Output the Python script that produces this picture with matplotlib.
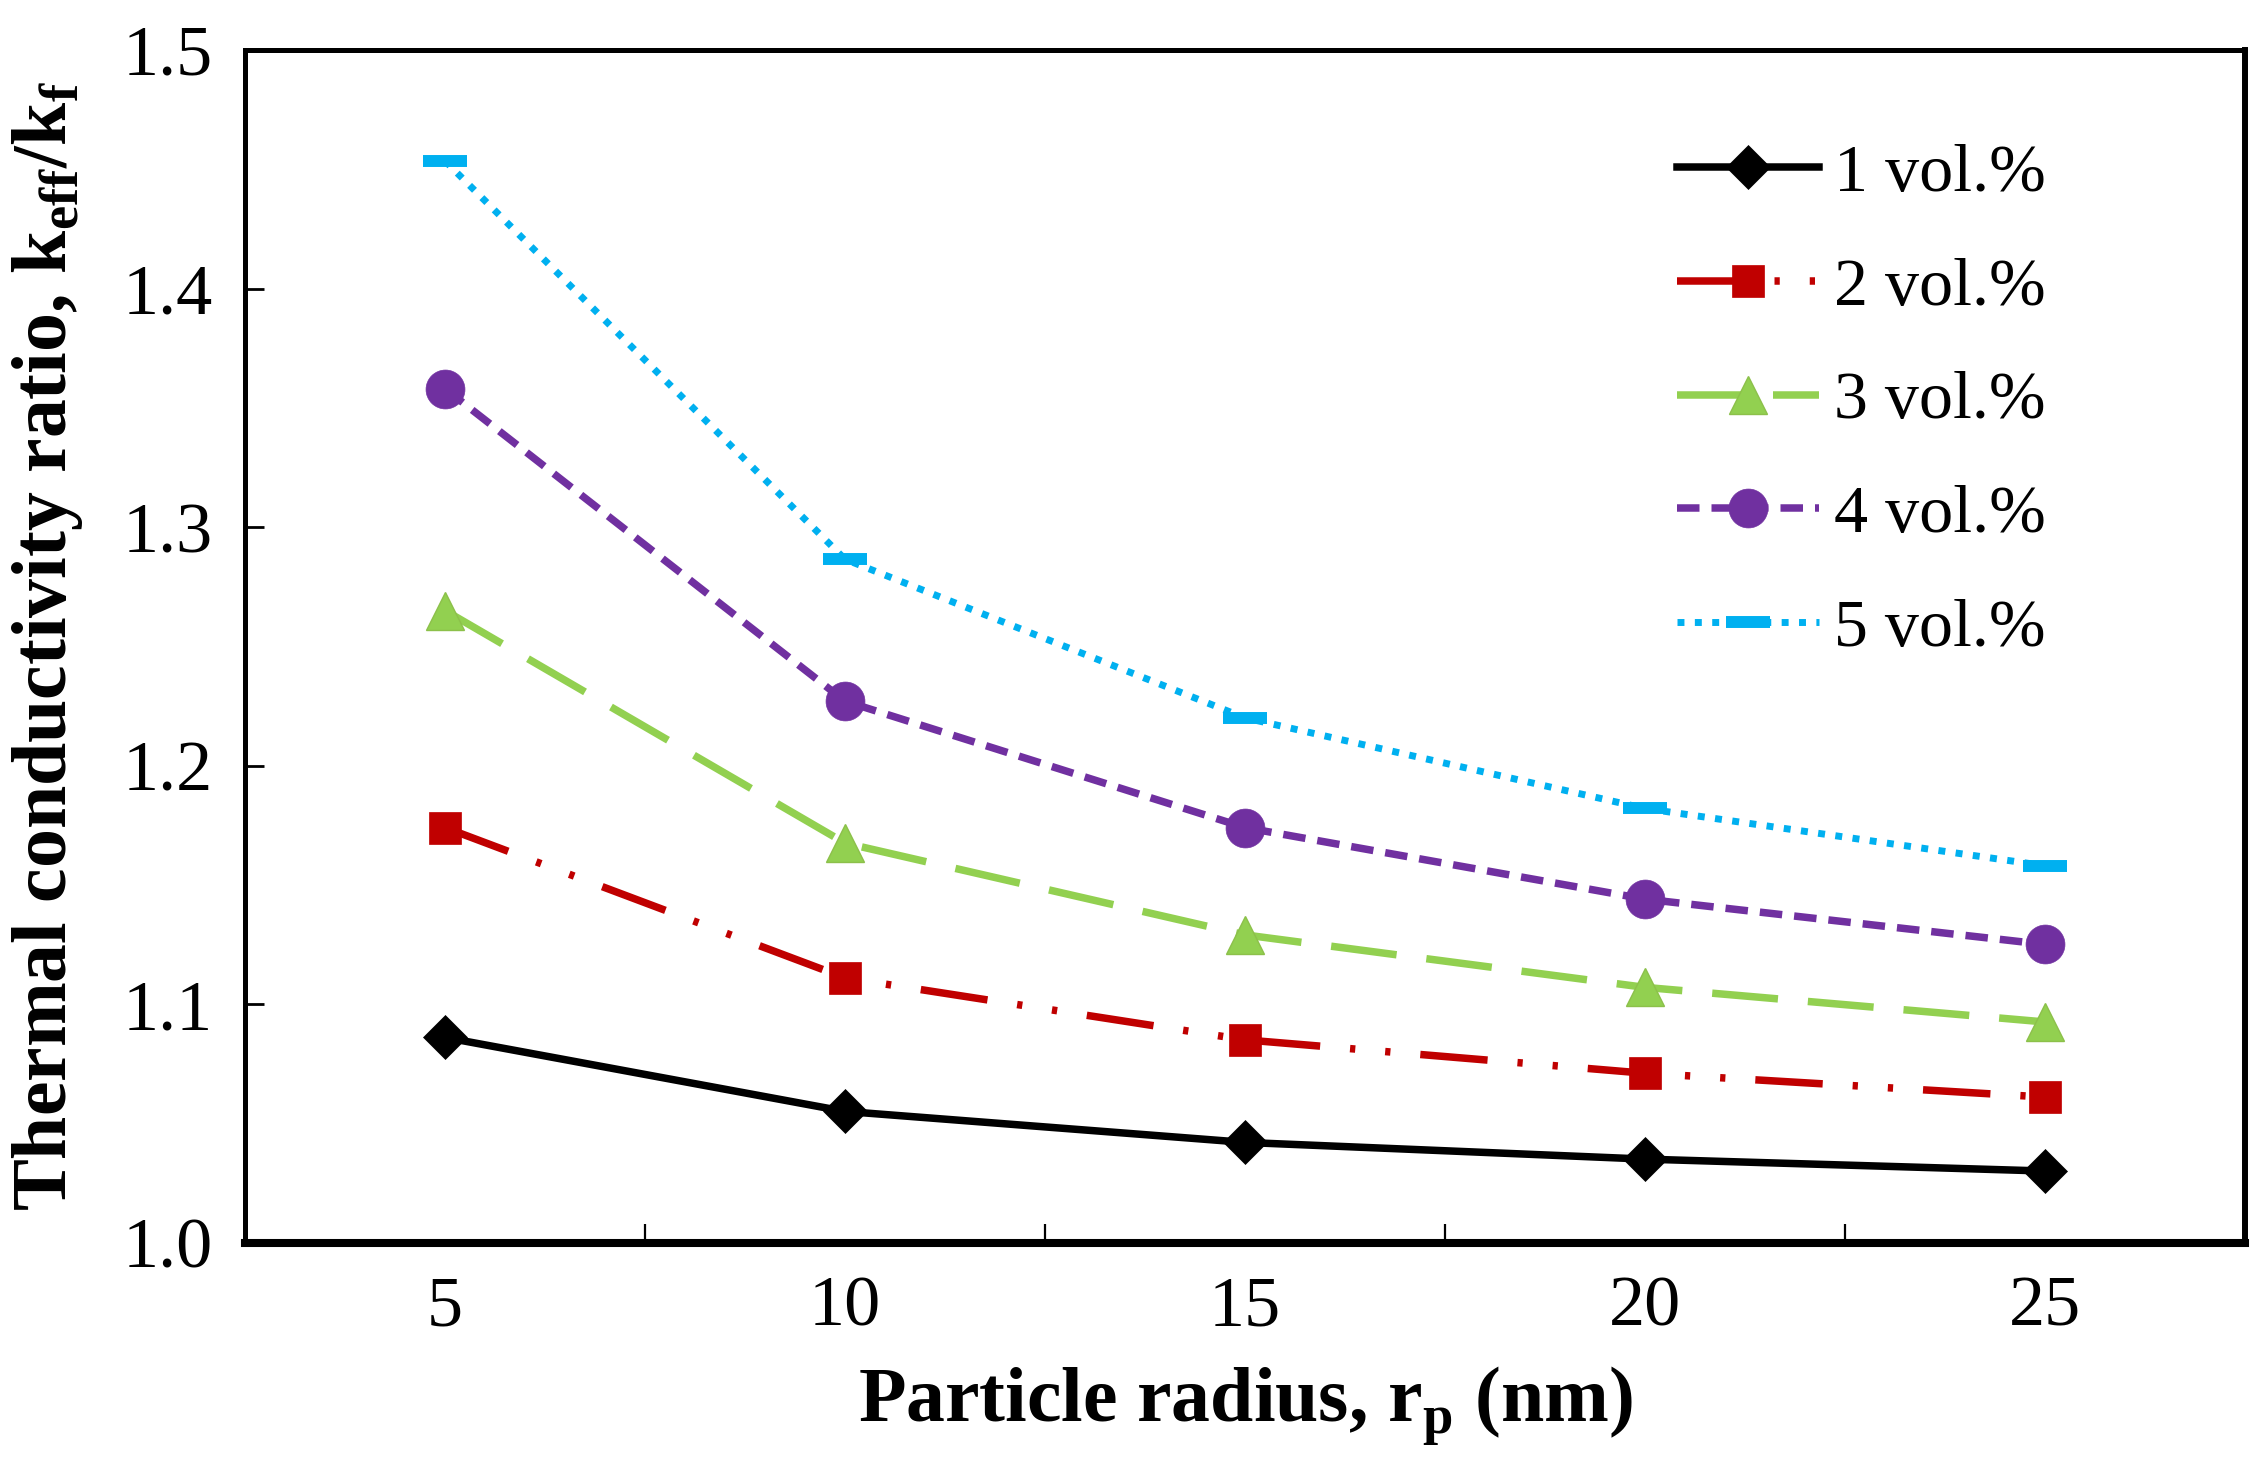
import matplotlib
matplotlib.use("Agg")
import matplotlib.pyplot as plt

plt.rcParams['font.family'] = ['Liberation Serif', 'DejaVu Serif']
plt.rcParams['mathtext.fontset'] = 'custom'
plt.rcParams['mathtext.rm'] = 'Liberation Serif'
plt.rcParams['mathtext.bf'] = 'Liberation Serif:bold'

radius = [5, 10, 15, 20, 25]
vol1 = [1.086, 1.055, 1.042, 1.035, 1.030]
vol2 = [1.174, 1.111, 1.085, 1.071, 1.061]
vol3 = [1.265, 1.1675, 1.129, 1.107, 1.0925]
vol4 = [1.358, 1.227, 1.174, 1.144, 1.125]
vol5 = [1.4535, 1.2865, 1.220, 1.182, 1.158]
labels = ['1 vol.%', '2 vol.%', '3 vol.%', '4 vol.%', '5 vol.%']
yticks = [1.0, 1.1, 1.2, 1.3, 1.4, 1.5]
xlabels = ['5', '10', '15', '20', '25']

fig = plt.figure(figsize=(22.58, 14.70), dpi=100)
ax = fig.add_axes([0.1085, 0.1547, 0.8857, 0.8113])

lw = 5.4
ax.plot(radius, vol1, color='black', lw=lw, ls='-', marker='D', ms=22,
        mec='black', mew=0.5, label=labels[0], zorder=3)
ax.plot(radius, vol2, color='#C00000', lw=lw, ls=(0, (9, 4, 0.7, 4, 0.7, 4)),
        marker='s', ms=23, mec='#C00000', mew=0.5, label=labels[1], zorder=3)
ax.plot(radius, vol3, color='#92D050', lw=lw, ls=(0, (8.8, 4.0)),
        marker='^', ms=27, mec='#8CC04A', mew=1.0, label=labels[2], zorder=3)
ax.plot(radius, vol4, color='#7030A0', lw=lw, ls=(0, (3.0, 1.6)),
        marker='o', ms=28, mec='#7030A0', mew=0.5, label=labels[3], zorder=3)
ax.plot(radius, vol5, color='#00B0F0', lw=5.0, ls=(0, (1.0, 1.5)),
        marker='_', ms=32, mec='#00B0F0', mew=8.6, label=labels[4], zorder=3)

ax.set_xlim(2.5, 27.5)
ax.set_ylim(1.0, 1.5)
ax.set_yticks(yticks)
ax.set_yticklabels([f'{v:.1f}' for v in yticks])
ax.set_xticks(radius)
ax.set_xticklabels(xlabels)
ax.set_xticks([7.5, 12.5, 17.5, 22.5], minor=True)

ax.tick_params(axis='y', which='major', direction='in', length=13.5, width=2.0,
               labelsize=52, pad=23)
ax.tick_params(axis='x', which='major', length=0, labelsize=52, pad=24)
ax.tick_params(axis='x', which='minor', direction='in', length=13.5, width=1.6)

ax.spines['left'].set_linewidth(3.6)
ax.spines['top'].set_linewidth(3.6)
ax.spines['right'].set_linewidth(4.3)
ax.spines['bottom'].set_linewidth(5.8)

ax.set_xlabel(r'Particle radius, r$_\mathbf{p}$ (nm)', fontsize=56, fontweight='bold')
ax.xaxis.set_label_coords(0.5, -0.103)
ax.set_ylabel(r'Thermal conductivity ratio, k$_\mathbf{eff}$/k$_\mathbf{f}$',
              fontsize=56, fontweight='bold')
ax.yaxis.set_label_coords(-0.080, 0.50)

leg = ax.legend(loc='upper left', bbox_to_anchor=(0.7425, 0.9025),
                bbox_transform=fig.transFigure, frameon=False, fontsize=49,
                handlelength=2.1, handletextpad=0.22, labelspacing=0.765,
                borderpad=0, borderaxespad=0)

fig.savefig('out.png', dpi=100)
